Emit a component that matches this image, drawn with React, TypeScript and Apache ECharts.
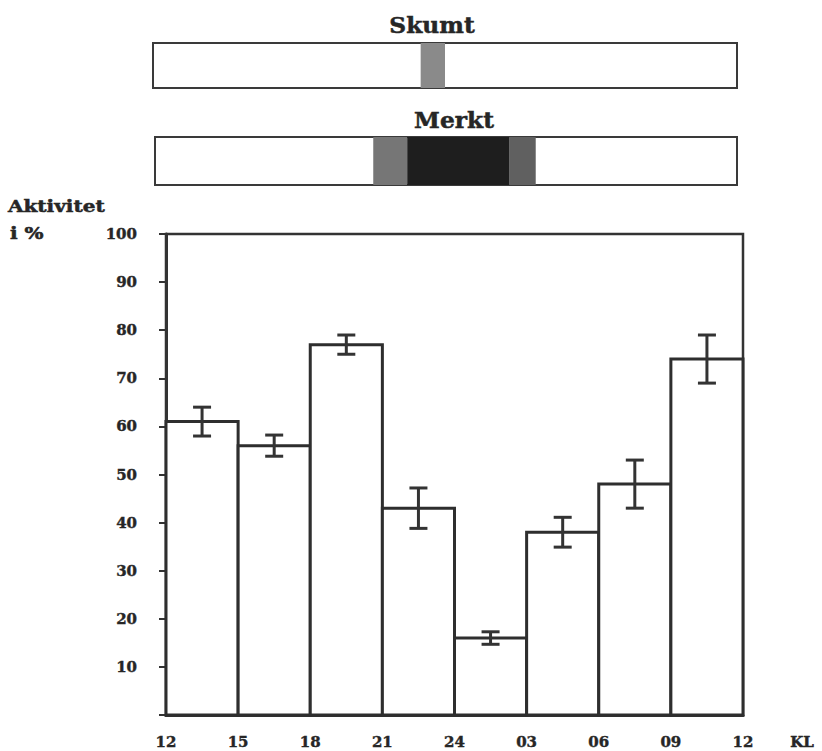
import React, { useEffect, useRef } from "react";
import * as echarts from "echarts";

// Time of day at each bar boundary (12:00 to 12:00 next day)
const tickLabels = ["12", "15", "18", "21", "24", "03", "06", "09", "12"];
// Activity in % for each 3-hour period
const activity = [61, 56, 77, 43, 16, 38, 48, 74];
// Half-length of each error bar (in %)
const errorMargins = [3, 2.2, 2, 4.2, 1.3, 3.1, 5, 5];
// Dusk ("Skumt") and dark ("Mørkt") periods, hours after 12:00
const skumtSpans = [[11.0, 12.0]];
const merktSpans = [
  [9.0, 10.4],
  [10.4, 14.6],
  [14.6, 15.7],
];
const merktShades = ["#767676", "#1e1e1e", "#606060"];

const FONT = "'DejaVu Serif', 'Liberation Serif', serif";
const INK = "#262626";

export default function App() {
  const ref = useRef<HTMLDivElement>(null);

  useEffect(() => {
    if (!ref.current) return;
    const chart = echarts.init(ref.current, undefined, { renderer: "svg" });

    const labelStyle = {
      fontFamily: FONT,
      fontWeight: "bold" as const,
      fontSize: 15,
      color: INK,
      textBorderColor: INK,
      textBorderWidth: 0.4,
    };

    const bandAxisX = (gridIndex: number) => ({
      type: "value" as const,
      gridIndex,
      min: 0,
      max: 24,
      show: false,
    });
    const bandAxisY = (gridIndex: number) => ({
      type: "value" as const,
      gridIndex,
      min: 0,
      max: 1,
      show: false,
    });

    const spanRender = (shades: string[]) => (params: any, api: any) => {
      const p0 = api.coord([api.value(0), 1]);
      const p1 = api.coord([api.value(1), 0]);
      return {
        type: "rect",
        shape: { x: p0[0], y: p0[1], width: p1[0] - p0[0], height: p1[1] - p0[1] },
        style: { fill: shades[params.dataIndex % shades.length] },
      };
    };

    const textEl = (
      text: string,
      x: number,
      y: number,
      size: number,
      align: string,
      scaleX = 1
    ) => ({
      type: "text",
      x,
      y,
      scaleX,
      style: {
        text,
        fill: INK,
        stroke: INK,
        lineWidth: 0.5,
        fontFamily: FONT,
        fontWeight: "bold",
        fontSize: size,
        align,
        verticalAlign: "middle",
        textAlign: align,
        textVerticalAlign: "middle",
      },
    });

    chart.setOption({
      animation: false,
      backgroundColor: "#ffffff",
      grid: [
        {
          left: 166,
          right: 79,
          top: 234,
          bottom: 36,
          show: true,
          borderColor: "#333",
          borderWidth: 2.5,
          outerBoundsMode: "none",
        },
        {
          left: 153,
          right: 85,
          top: 43,
          height: 45,
          show: true,
          borderColor: "#3a3a3a",
          borderWidth: 2,
          outerBoundsMode: "none",
        },
        {
          left: 155,
          right: 85,
          top: 137,
          height: 48,
          show: true,
          borderColor: "#3a3a3a",
          borderWidth: 2,
          outerBoundsMode: "none",
        },
      ],
      xAxis: [
        {
          type: "value",
          gridIndex: 0,
          min: 0,
          max: 8,
          interval: 1,
          axisLine: { show: true, lineStyle: { color: "#333", width: 3 } },
          axisTick: { show: false },
          splitLine: { show: false },
          axisLabel: {
            ...labelStyle,
            margin: 19,
            formatter: (v: number) => tickLabels[Math.round(v)] ?? "",
          },
        },
        bandAxisX(1),
        bandAxisX(2),
      ],
      yAxis: [
        {
          type: "value",
          gridIndex: 0,
          min: 0,
          max: 100,
          interval: 10,
          axisLine: { show: true, lineStyle: { color: "#333", width: 3 } },
          axisTick: { show: true, length: 7, lineStyle: { color: "#333", width: 2 } },
          splitLine: { show: false },
          axisLabel: {
            ...labelStyle,
            margin: 29,
            formatter: (v: number) => (v === 0 ? "" : String(v)),
          },
        },
        bandAxisY(1),
        bandAxisY(2),
      ],
      series: [
        {
          type: "custom",
          name: "Aktivitet",
          xAxisIndex: 0,
          yAxisIndex: 0,
          data: activity.map((v, i) => [i, v]),
          encode: { x: 0, y: 1 },
          z: 2,
          renderItem: (params: any, api: any) => {
            const i = api.value(0);
            const v = api.value(1);
            const p0 = api.coord([i, v]);
            const p1 = api.coord([i + 1, 0]);
            return {
              type: "rect",
              shape: { x: p0[0], y: p0[1], width: p1[0] - p0[0], height: p1[1] - p0[1] },
              style: { fill: "#ffffff", stroke: "#2e2e2e", lineWidth: 3 },
            };
          },
        },
        {
          type: "custom",
          name: "Feil",
          xAxisIndex: 0,
          yAxisIndex: 0,
          data: activity.map((v, i) => [i + 0.5, v - errorMargins[i], v + errorMargins[i]]),
          encode: { x: 0, y: [1, 2] },
          z: 3,
          renderItem: (params: any, api: any) => {
            const x = api.value(0);
            const lo = api.coord([x, api.value(1)]);
            const hi = api.coord([x, api.value(2)]);
            const cap = 9;
            const st = { stroke: "#333", lineWidth: 3 };
            return {
              type: "group",
              children: [
                { type: "line", shape: { x1: hi[0], y1: hi[1], x2: lo[0], y2: lo[1] }, style: st },
                { type: "line", shape: { x1: hi[0] - cap, y1: hi[1], x2: hi[0] + cap, y2: hi[1] }, style: st },
                { type: "line", shape: { x1: lo[0] - cap, y1: lo[1], x2: lo[0] + cap, y2: lo[1] }, style: st },
              ],
            };
          },
        },
        {
          type: "custom",
          name: "Skumt",
          xAxisIndex: 1,
          yAxisIndex: 1,
          data: skumtSpans,
          encode: { x: [0, 1] },
          renderItem: spanRender(["#8a8a8a"]),
        },
        {
          type: "custom",
          name: "Merkt",
          xAxisIndex: 2,
          yAxisIndex: 2,
          data: merktSpans,
          encode: { x: [0, 1] },
          renderItem: spanRender(merktShades),
        },
      ],
      graphic: [
        textEl("Skumt", 432, 25, 22, "center", 1.06),
        textEl("Merkt", 454, 120, 22, "center", 1.06),
        textEl("Aktivitet", 8, 206, 16, "left", 1.25),
        textEl("i %", 10, 233, 16, "left", 1.25),
        textEl("KL", 802, 742, 15, "center"),
      ],
    });

    return () => chart.dispose();
  }, []);

  return (
    <div
      ref={ref}
      style={{ position: "absolute", left: 0, top: 0, width: 822, height: 751 }}
    />
  );
}
